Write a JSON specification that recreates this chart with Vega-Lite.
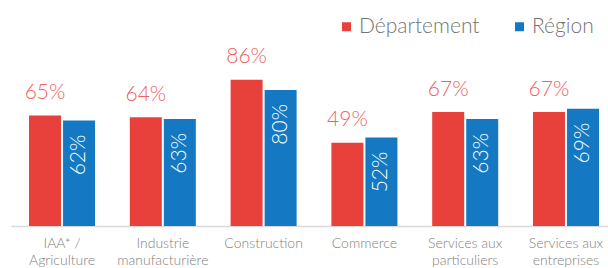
{
  "$schema": "https://vega.github.io/schema/vega-lite/v6.json",
  "width": 597,
  "height": 170,
  "autosize": {"type": "none"},
  "padding": {"left": 11, "top": 56, "right": 0, "bottom": 42},
  "background": "white",
  "config": {"view": {"stroke": null}, "font": "Lato"},
  "data": {
    "values": [
      {"cat": "IAA* /|Agriculture", "serie": "Département", "v": 0.65},
      {"cat": "IAA* /|Agriculture", "serie": "Région", "v": 0.62},
      {"cat": "Industrie|manufacturière", "serie": "Département", "v": 0.64},
      {"cat": "Industrie|manufacturière", "serie": "Région", "v": 0.63},
      {"cat": "Construction", "serie": "Département", "v": 0.86},
      {"cat": "Construction", "serie": "Région", "v": 0.80},
      {"cat": "Commerce", "serie": "Département", "v": 0.49},
      {"cat": "Commerce", "serie": "Région", "v": 0.52},
      {"cat": "Services aux|particuliers", "serie": "Département", "v": 0.67},
      {"cat": "Services aux|particuliers", "serie": "Région", "v": 0.63},
      {"cat": "Services aux|entreprises", "serie": "Département", "v": 0.67},
      {"cat": "Services aux|entreprises", "serie": "Région", "v": 0.69}
    ]
  },
  "encoding": {
    "x": {
      "field": "cat", "type": "nominal", "sort": null,
      "scale": {"paddingInner": 0.345, "paddingOuter": 0.134, "align": 0.667},
      "axis": {
        "title": null, "labelAngle": 0, "ticks": false,
        "domainColor": "#d9d9d9", "domainWidth": 1.5,
        "labelExpr": "split(datum.label, '|')",
        "labelFont": "Lato", "labelFontSize": 14, "labelFontWeight": 300,
        "labelColor": "#7f7f7f", "labelPadding": 10, "labelLineHeight": 17
      }
    },
    "xOffset": {
      "field": "serie", "type": "nominal",
      "scale": {"domain": ["Département", "Région"], "paddingInner": 0.06}
    },
    "y": {"field": "v", "type": "quantitative", "scale": {"domain": [0, 1]}, "axis": null}
  },
  "layer": [
    {
      "mark": {"type": "bar"},
      "encoding": {
        "color": {
          "field": "serie", "type": "nominal",
          "scale": {"domain": ["Département", "Région"], "range": ["#E8413C", "#1479C2"]},
          "legend": {
            "orient": "none", "legendX": 325, "legendY": -40,
            "direction": "horizontal", "title": null, "padding": 0,
            "symbolType": "square", "symbolSize": 81, "symbolStrokeWidth": 0,
            "labelFont": "Lato", "labelFontSize": 21, "labelFontWeight": 300,
            "labelColor": "#757575", "labelOffset": 2, "columnPadding": 29
          }
        }
      }
    },
    {
      "transform": [{"filter": "datum.serie == 'Département'"}],
      "mark": {"type": "text", "baseline": "alphabetic", "dy": -16.5, "fontSize": 21, "fontWeight": 300, "color": "#F0625F"},
      "encoding": {"text": {"field": "v", "type": "quantitative", "format": ".0%"}}
    },
    {
      "transform": [{"filter": "datum.serie == 'Région'"}],
      "mark": {"type": "text", "angle": 270, "align": "right", "baseline": "middle", "dx": -14, "fontSize": 21, "fontWeight": 300, "color": "white"},
      "encoding": {"text": {"field": "v", "type": "quantitative", "format": ".0%"}}
    }
  ]
}
